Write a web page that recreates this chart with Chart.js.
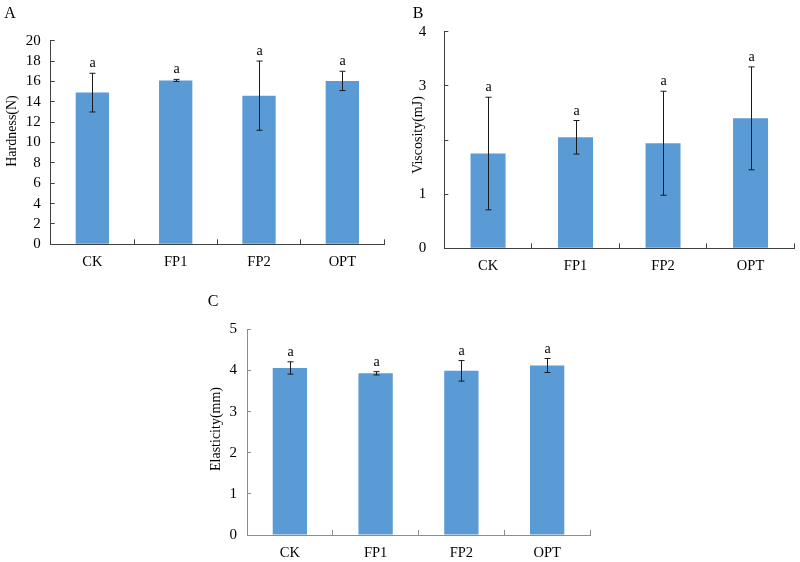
<!DOCTYPE html>
<html>
<head>
<meta charset="utf-8">
<script src="https://cdn.jsdelivr.net/npm/chart.js@4/dist/chart.umd.min.js"></script>
<style>
  html, body { margin: 0; padding: 0; background: #fff; }
  #wrap { position: relative; width: 800px; height: 562px; overflow: hidden; background: #fff; }
  canvas { position: absolute; }
</style>
</head>
<body>
<div id="wrap">
  <canvas id="cA" width="400" height="280" style="left:0px;top:0px;width:400px;height:280px"></canvas>
  <canvas id="cB" width="400" height="280" style="left:400px;top:0px;width:400px;height:280px"></canvas>
  <canvas id="cC" width="400" height="282" style="left:200px;top:280px;width:400px;height:282px"></canvas>
</div>
<script>
// ---- data ----
const categories = ['CK', 'FP1', 'FP2', 'OPT'];

const hardness = [14.9, 16.1, 14.6, 16.05];
const hardnessErr = [1.9, 0.1, 3.4, 0.95];
const hardnessSig = ['a', 'a', 'a', 'a'];
const hardnessTicks = [0, 2, 4, 6, 8, 10, 12, 14, 16, 18, 20];

const viscosity = [1.75, 2.05, 1.94, 2.40];
const viscosityErr = [1.04, 0.31, 0.96, 0.95];
const viscositySig = ['a', 'a', 'a', 'a'];
const viscosityTicks = [0, 1, 2, 3, 4];

const elasticity = [4.06, 3.93, 3.99, 4.12];
const elasticityErr = [0.15, 0.04, 0.25, 0.17];
const elasticitySig = ['a', 'a', 'a', 'a'];
const elasticityTicks = [0, 1, 2, 3, 4, 5];

const panelLabels = ['A', 'B', 'C'];
const yTitles = ['Hardness(N)', 'Viscosity(mJ)', 'Elasticity(mm)'];

// ---- drawing ----
const FONT = '"Liberation Serif", "Times New Roman", serif';
const BAR_COLOR = '#5B9BD5';

const extrasPlugin = {
  id: 'extras',
  afterDatasetsDraw(chart, args, opts) {
    const ctx = chart.ctx;
    const meta = chart.getDatasetMeta(0);
    const ys = chart.scales.y;
    const vals = chart.data.datasets[0].data;
    ctx.save();
    ctx.strokeStyle = '#1a1a1a';
    ctx.lineWidth = 1;
    meta.data.forEach((bar, i) => {
      const x = Math.round(bar.x) + 0.5;
      const top = ys.getPixelForValue(vals[i] + opts.errors[i]);
      const bot = ys.getPixelForValue(vals[i] - opts.errors[i]);
      ctx.beginPath();
      ctx.moveTo(x, top); ctx.lineTo(x, bot);
      ctx.moveTo(x - 3, top); ctx.lineTo(x + 3, top);
      ctx.moveTo(x - 3, bot); ctx.lineTo(x + 3, bot);
      ctx.stroke();
      ctx.fillStyle = '#000';
      ctx.font = '14px ' + FONT;
      ctx.textAlign = 'center';
      ctx.textBaseline = 'alphabetic';
      ctx.fillText(opts.letters[i], x, top - 6);
    });
    ctx.restore();
  },
  afterDraw(chart, args, opts) {
    const ctx = chart.ctx;
    ctx.save();
    ctx.fillStyle = '#000';
    ctx.textAlign = 'center';
    ctx.textBaseline = 'middle';
    ctx.font = '16px ' + FONT;
    ctx.fillText(opts.panel, opts.panelX, opts.panelY);
    ctx.translate(opts.titleX, opts.titleY);
    ctx.rotate(-Math.PI / 2);
    ctx.font = '14px ' + FONT;
    const w = ctx.measureText(opts.title).width;
    ctx.fillStyle = '#fff';
    ctx.fillRect(-w / 2 - 2, -8, w + 4, 16);
    ctx.fillStyle = '#000';
    ctx.fillText(opts.title, 0, 0);
    ctx.restore();
  }
};

function makeChart(id, values, errs, letters, ticks, lay) {
  const yMax = ticks[ticks.length - 1];
  const step = ticks[1] - ticks[0];
  return new Chart(document.getElementById(id), {
    type: 'bar',
    data: {
      labels: categories,
      datasets: [{
        data: values,
        backgroundColor: BAR_COLOR,
        borderWidth: 0,
        categoryPercentage: 1.0,
        barPercentage: 0.4
      }]
    },
    options: {
      responsive: false,
      animation: false,
      devicePixelRatio: 1,
      layout: { padding: { left: 0, top: lay.top, right: lay.right, bottom: 0 } },
      plugins: {
        legend: { display: false },
        tooltip: { enabled: false },
        extras: {
          errors: errs, letters: letters,
          panel: lay.panel, panelX: lay.panelX, panelY: lay.panelY,
          title: lay.title, titleX: lay.titleX, titleY: lay.titleY
        }
      },
      scales: {
        x: {
          afterFit(s) { s.height = lay.xHeight; },
          border: { display: true, color: lay.axisColor, width: 1 },
          grid: { drawOnChartArea: false, drawTicks: true, tickLength: -5, color: lay.axisColor, offset: true },
          ticks: { color: '#000', font: { family: FONT, size: 14.5 }, padding: 14 }
        },
        y: {
          min: 0, max: yMax,
          afterFit(s) { s.width = lay.yWidth; },
          afterBuildTicks(s) { s.ticks = ticks.map(v => ({ value: v })); },
          border: { display: true, color: lay.axisColor, width: 1 },
          grid: { drawOnChartArea: false, drawTicks: true, tickLength: -4, color: lay.axisColor },
          ticks: { stepSize: step, autoSkip: false, color: '#000', font: { family: FONT, size: 15 }, padding: lay.tickPad }
        }
      }
    },
    plugins: [extrasPlugin]
  });
}

makeChart('cA', hardness, hardnessErr, hardnessSig, hardnessTicks, {
  top: 40.7, right: 16, yWidth: 50.7, xHeight: 35.7, tickPad: 14, axisColor: '#404040',
  panel: panelLabels[0], panelX: 10, panelY: 14,
  title: yTitles[0], titleX: 12, titleY: 131
});
makeChart('cB', viscosity, viscosityErr, viscositySig, viscosityTicks, {
  top: 31.7, right: 5.7, yWidth: 44.3, xHeight: 31.7, tickPad: 22, axisColor: '#404040',
  panel: panelLabels[1], panelX: 18, panelY: 14,
  title: yTitles[1], titleX: 18.8, titleY: 135
});
makeChart('cC', elasticity, elasticityErr, elasticitySig, elasticityTicks, {
  top: 49.3, right: 10, yWidth: 47, xHeight: 27, tickPad: 14, axisColor: '#8c8c8c',
  panel: panelLabels[2], panelX: 13, panelY: 22,
  title: yTitles[2], titleX: 16.3, titleY: 149
});
</script>
</body>
</html>
